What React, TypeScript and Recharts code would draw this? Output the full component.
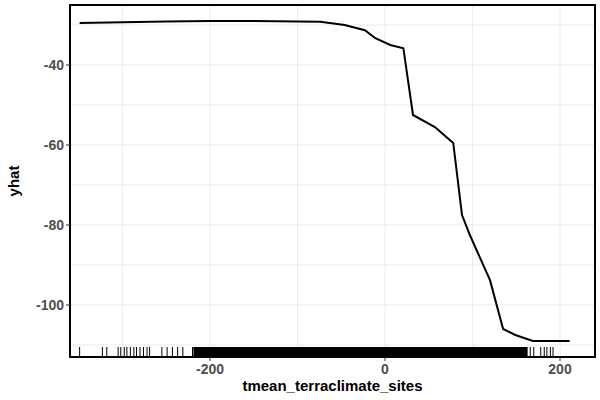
import { ComposedChart, Line, Scatter, XAxis, YAxis, CartesianGrid, ReferenceArea, Label } from 'recharts'

const tmean = [-349, -300, -250, -200, -150, -100, -74, -46, -23, -11, 6, 21, 32, 57, 78, 88, 97, 120, 135, 149, 169, 211]
const yhat = [-29.5, -29.3, -29.1, -29.0, -29.0, -29.1, -29.2, -30, -31.3, -33.3, -35, -35.8, -52.5, -55.5, -59.5, -77.5, -82.5, -93.8, -106, -107.5, -109, -109]
const rugSparse = [-349, -323, -318, -305, -302, -298, -295, -291, -287, -284, -280, -276, -272, -269, -255, -249, -243, -237, -231, -220, 166, 170, 178, 182, 185, 189, 192]
const xTicks = [-200, 0, 200]
const yTicks = [-100, -80, -60, -40]
const xGrid = [-300, -200, -100, 0, 100, 200]
const yGrid = [-110, -100, -90, -80, -70, -60, -50, -40, -30]

const lineData = tmean.map((x, i) => ({ x, y: yhat[i] }))
const rugData = rugSparse.map(x => ({ x, y: -113 }))

const font = 'Liberation Sans, Arial, sans-serif'
const tickStyle = { fill: '#4d4d4d', fontSize: 14, fontWeight: 'bold', fontFamily: font }

function RugTick(props: any) {
  const { cx, cy } = props
  return <line x1={cx} x2={cx} y1={cy - 10} y2={cy} stroke="#000" strokeWidth={1} />
}

export default function App() {
  return (
    <div style={{ position: 'absolute', left: 0, top: 0, width: 600, height: 400, background: '#fff' }}>
      <ComposedChart width={600} height={400} margin={{ top: 5, right: 5, left: 0, bottom: 0 }}>
        <CartesianGrid stroke="#ebebeb" horizontalValues={yGrid} verticalValues={xGrid} />
        <XAxis type="number" dataKey="x" domain={[-360, 240]} ticks={xTicks} allowDataOverflow
          tick={tickStyle} tickLine={{ stroke: '#333' }} tickSize={4} tickMargin={3} axisLine={false} height={43}>
          <Label value="tmean_terraclimate_sites" position="insideBottom" offset={9}
            style={{ fill: '#000', fontSize: 15, fontWeight: 'bold', fontFamily: font }} />
        </XAxis>
        <YAxis type="number" dataKey="y" domain={[-113, -25]} ticks={yTicks} allowDataOverflow
          tick={tickStyle} tickLine={{ stroke: '#333' }} tickSize={4} axisLine={false} width={70}>
          <Label value="yhat" angle={-90} position="insideLeft" offset={14}
            style={{ fill: '#000', fontSize: 15, fontWeight: 'bold', fontFamily: font, textAnchor: 'middle' }} />
        </YAxis>
        <ReferenceArea x1={-219} x2={163} y1={-113} y2={-110.5} fill="#000" fillOpacity={1} stroke="none" />
        <Scatter data={rugData} shape={RugTick} isAnimationActive={false} />
        <Line data={lineData} dataKey="y" type="linear" stroke="#000" strokeWidth={2} dot={false} isAnimationActive={false} />
        <ReferenceArea x1={-360} x2={240} y1={-113} y2={-25} fill="none" stroke="#000" strokeWidth={2} ifOverflow="visible" />
      </ComposedChart>
    </div>
  )
}
